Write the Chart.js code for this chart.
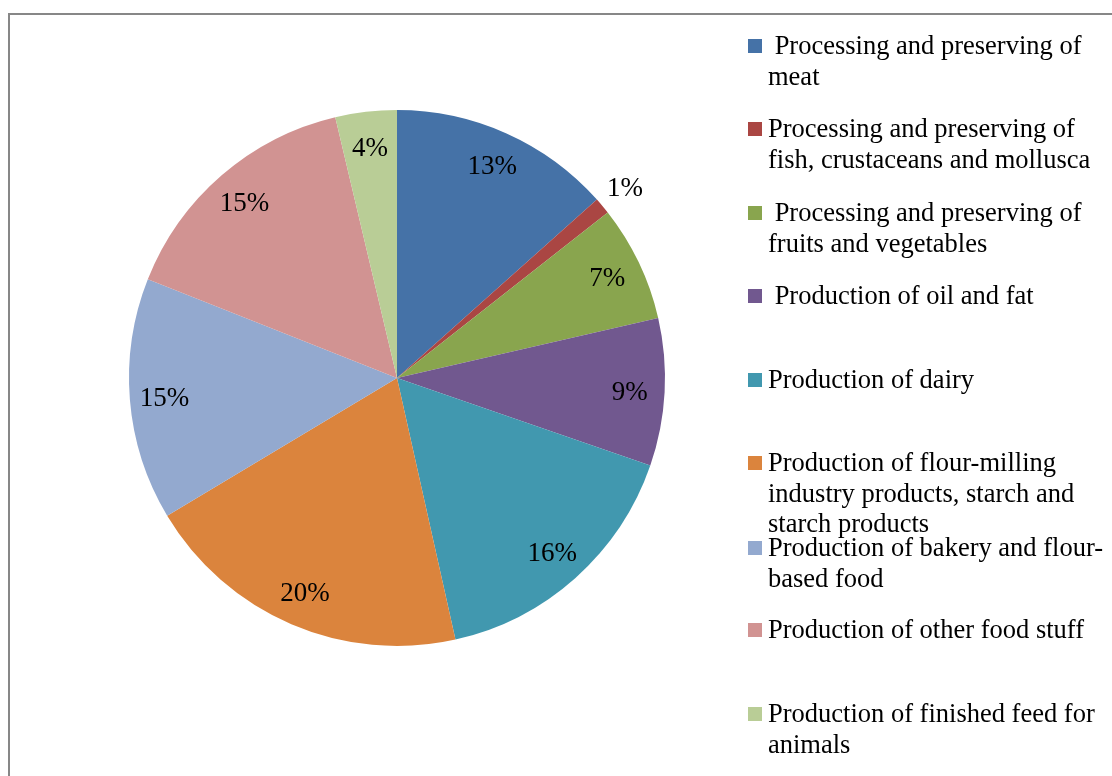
<!DOCTYPE html>
<html>
<head>
<meta charset="utf-8">
<script src="https://cdn.jsdelivr.net/npm/chart.js@4"></script>
<style>
    html, body { margin: 0; padding: 0; background: #fff; }
    #wrap { position: relative; width: 1112px; height: 776px; overflow: hidden; }
    #frame { position: absolute; left: 8px; top: 13px; width: 1200px; height: 900px; border: 2px solid #878787; box-sizing: border-box; }
    #chart { position: absolute; left: 0; top: 0; }
    .legend-item { position: absolute; left: 748px; font-family: "Liberation Serif", "Times New Roman", serif; font-size: 26.5px; line-height: 30.5px; color: #000; }
    .legend-item .box { position: absolute; left: 0; top: 9px; width: 14px; height: 14px; }
    .legend-item .txt { position: absolute; left: 20px; top: 0; white-space: pre; }
</style>
</head>
<body>
<div id="wrap">
    <div id="frame"></div>
    <canvas id="chart" width="1112" height="776"></canvas>
    <div id="legend"></div>
</div>
<script>
// 各類別與比例
const categories = [
    ' Processing and preserving of\nmeat',
    'Processing and preserving of\nfish, crustaceans and mollusca',
    ' Processing and preserving of\nfruits and vegetables',
    ' Production of oil and fat',
    'Production of dairy',
    'Production of flour-milling\nindustry products, starch and\nstarch products',
    'Production of bakery and flour-\nbased food',
    'Production of other food stuff',
    'Production of finished feed for\nanimals'
];
const shares = [13.4, 1.0, 7.0, 8.9, 16.2, 19.9, 14.6, 15.3, 3.7];
const sliceColors = ['#4572A7', '#AA4643', '#89A54E', '#71588F', '#4198AF', '#DB843D', '#93A9CF', '#D19392', '#B9CD96'];
const legendTops = [30, 113, 197, 280, 364, 447, 532, 614, 698];

document.addEventListener('DOMContentLoaded', function() {
    // 百分比標籤
    const pctLabels = {
        id: 'pctLabels',
        afterDatasetsDraw(chart) {
            const ctx = chart.ctx;
            const meta = chart.getDatasetMeta(0);
            const total = shares.reduce((a, b) => a + b, 0);
            ctx.save();
            ctx.font = '27px "Liberation Serif", "Times New Roman", serif';
            ctx.fillStyle = '#000';
            ctx.textAlign = 'center';
            ctx.textBaseline = 'middle';
            meta.data.forEach((arc, i) => {
                const p = arc.getProps(['x', 'y', 'startAngle', 'endAngle', 'outerRadius'], true);
                const mid = (p.startAngle + p.endAngle) / 2;
                const pct = shares[i] / total * 100;
                const r = pct < 2 ? p.outerRadius * 1.11 : p.outerRadius * 0.87;
                ctx.fillText(Math.round(pct) + '%', p.x + Math.cos(mid) * r, p.y + Math.sin(mid) * r + 2);
            });
            ctx.restore();
        }
    };

    new Chart(document.getElementById('chart'), {
        type: 'pie',
        data: {
            labels: categories,
            datasets: [{ data: shares, backgroundColor: sliceColors, borderWidth: 0 }]
        },
        options: {
            responsive: false,
            animation: false,
            layout: { padding: { left: 129, right: 447, top: 110, bottom: 130 } },
            plugins: { legend: { display: false }, tooltip: { enabled: false } }
        },
        plugins: [pctLabels]
    });

    // 右側圖例
    const legendEl = document.getElementById('legend');
    categories.forEach((name, i) => {
        const item = document.createElement('div');
        item.className = 'legend-item';
        item.style.top = legendTops[i] + 'px';
        item.innerHTML = `<span class="box" style="background:${sliceColors[i]}"></span><span class="txt"></span>`;
        item.querySelector('.txt').textContent = name;
        legendEl.appendChild(item);
    });
});
</script>
</body>
</html>
